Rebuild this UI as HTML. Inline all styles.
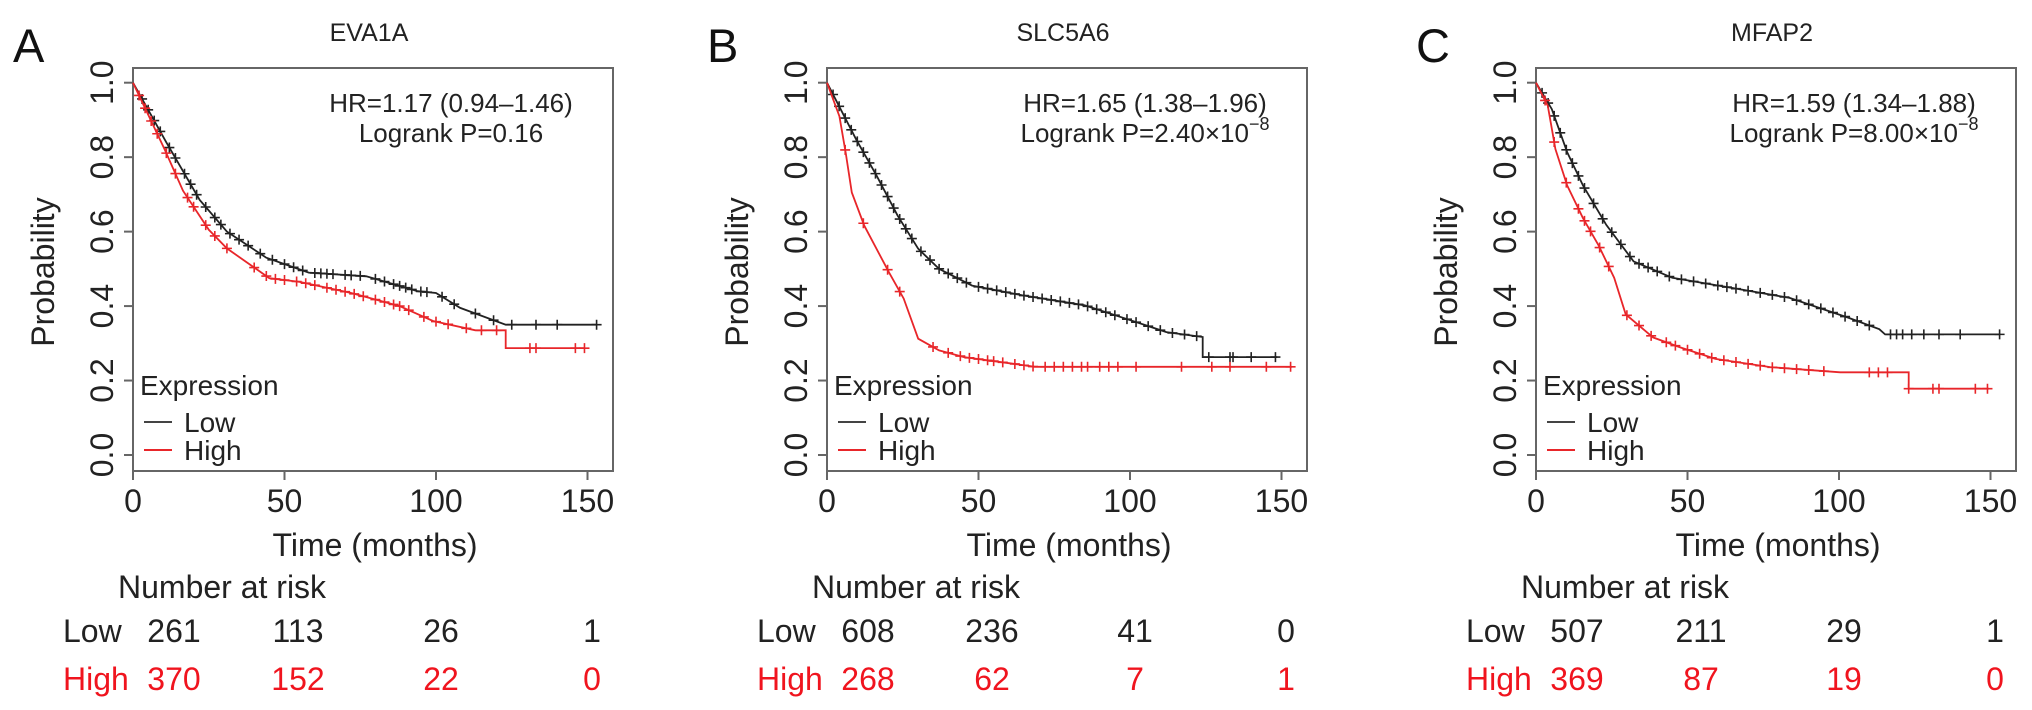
<!DOCTYPE html>
<html><head><meta charset="utf-8">
<style>
html,body{margin:0;padding:0;background:#fff;}
svg{display:block;font-family:"Liberation Sans",Arial,sans-serif;}
</style></head>
<body>
<svg id="fig" width="2032" height="710" viewBox="0 0 2032 710" xmlns="http://www.w3.org/2000/svg"></svg>
<script>
// ---- data ----
const xTicks = [0, 50, 100, 150];
const yTicks = [0, 0.2, 0.4, 0.6, 0.8, 1.0];
const yTickLabels = ["0.0", "0.2", "0.4", "0.6", "0.8", "1.0"];
const panelLetters = ["A", "B", "C"];
const geneNames = ["EVA1A", "SLC5A6", "MFAP2"];
const hrTexts = ["HR=1.17 (0.94\u20131.46)", "HR=1.65 (1.38\u20131.96)", "HR=1.59 (1.34\u20131.88)"];
const pTexts = ["Logrank P=0.16", "Logrank P=2.40\u00d710", "Logrank P=8.00\u00d710"];
const pExps = ["", "\u22128", "\u22128"];
const riskLow = [[261, 113, 26, 1], [608, 236, 41, 0], [507, 211, 29, 1]];
const riskHigh = [[370, 152, 22, 0], [268, 62, 7, 1], [369, 87, 19, 0]];

const aLowT = [0, 11, 22, 31, 44, 58, 77, 94, 100, 108, 123, 123, 153];
const aLowP = [1, 0.84, 0.685, 0.60, 0.53, 0.49, 0.48, 0.44, 0.435, 0.395, 0.35, 0.35, 0.35];
const aHighT = [0, 10.5, 16.5, 25, 31, 45, 55, 72, 88, 99, 113, 123, 123, 149];
const aHighP = [1, 0.82, 0.71, 0.605, 0.555, 0.475, 0.465, 0.435, 0.40, 0.36, 0.335, 0.335, 0.287, 0.287];
const bLowT = [0, 9.6, 16.4, 23.3, 30.1, 37, 47.9, 64.4, 85, 98.6, 112, 124, 124, 148.6];
const bLowP = [1, 0.848, 0.75, 0.643, 0.554, 0.5, 0.455, 0.429, 0.402, 0.366, 0.33, 0.317, 0.263, 0.263];
const bHighT = [0, 4.1, 6.2, 8.2, 12.3, 20.5, 25.3, 30.1, 37, 45.2, 61.6, 68.5, 153.4];
const bHighP = [1, 0.91, 0.81, 0.705, 0.616, 0.49, 0.42, 0.3125, 0.281, 0.263, 0.245, 0.237, 0.237];
const cLowT = [0, 5.2, 10.3, 15.5, 23.2, 32.2, 45, 64.4, 83.7, 103, 113.3, 115.2, 153.2];
const cLowP = [1, 0.929, 0.813, 0.724, 0.618, 0.52, 0.476, 0.449, 0.422, 0.369, 0.338, 0.324, 0.324];
const cHighT = [0, 3.9, 6.4, 10.3, 15.5, 20.6, 25.8, 29.6, 38.6, 47.6, 59.2, 77.3, 100.4, 123, 123, 149.4];
const cHighP = [1, 0.938, 0.822, 0.724, 0.636, 0.564, 0.476, 0.378, 0.316, 0.289, 0.258, 0.236, 0.222, 0.222, 0.178, 0.178];

const aLowCens = [3,5,7,9,12,14,17,19,21,24,27,29,32,35,38,42,46,50,53,56,60,62,64,66,70,72,75,80,83,86,88,90,92,95,97,102,106,113,119,125,133,140,153];
const aHighCens = [2,4,6,8,11,14,18,20,24,27,31,40,44,47,50,54,57,60,64,67,70,73,76,80,83,86,88,91,96,100,104,110,115,120,131,133,146,149];
const bLowCens = [2,4,6,8,10,12,14,16,18,20,22,24,26,28,31,34,37,40,43,46,50,53,56,59,62,65,68,71,74,77,80,83,86,89,92,95,99,102,106,110,114,118,122,126,133,134,140,148];
const bHighCens = [6,12,20,24,35,40,44,47,50,53,55,58,62,65,68,72,75,78,81,84,86,90,93,96,102,117,127,133,145,153];
const cLowCens = [2,4,6,8,10,12,14,16,19,22,25,28,31,34,37,40,44,48,52,56,60,63,66,70,74,78,82,86,90,94,98,102,106,110,117,119,121,124,128,133,140,153];
const cHighCens = [3,6,10,14,16,18,21,24,30,34,38,43,46,50,54,58,62,66,70,74,78,82,86,90,95,110,113,116,123,131,133,145,149];

const series = [
  {lowT:aLowT, lowP:aLowP, highT:aHighT, highP:aHighP, lowC:aLowCens, highC:aHighCens},
  {lowT:bLowT, lowP:bLowP, highT:bHighT, highP:bHighP, lowC:bLowCens, highC:bHighCens},
  {lowT:cLowT, lowP:cLowP, highT:cHighT, highP:cHighP, lowC:cLowCens, highC:cHighCens}
];
// ---- layout ----
const X0 = [133, 827, 1536];
const PXM = 3.03, BOXW = 480, TOP = 68, BOT = 471, Y1 = 82.7, YZ = 455;
const BLACK = "#222", RED = "#e8262a", RISKRED = "#f0141e";
const NS = "http://www.w3.org/2000/svg";
const svg = document.getElementById("fig");

function mk(tag, attrs, parent, text) {
  const e = document.createElementNS(NS, tag);
  for (const k in attrs) e.setAttribute(k, attrs[k]);
  if (text !== undefined) e.textContent = text;
  (parent || svg).appendChild(e);
  return e;
}
function interp(T, P, t) {
  for (let i = T.length - 1; i >= 0; i--) if (T[i] <= t) {
    if (i === T.length - 1) return P[i];
    const f = (t - T[i]) / ((T[i+1] - T[i]) || 1);
    return P[i] + (P[i+1] - P[i]) * f;
  }
  return P[0];
}

for (let k = 0; k < 3; k++) {
  const x0 = X0[k];
  const xs = t => x0 + t * PXM;
  const ys = p => YZ - (YZ - Y1) * p;
  const g = mk("g", {});
  
  

  const letter = mk("text", {x: x0 - 120, y: 62, "font-size": 47, fill: "#111"}, g, panelLetters[k]);
  
  
  const title = mk("text", {x: x0 + 236, y: 41, "font-size": 25, fill: "#222", "text-anchor": "middle"}, g, geneNames[k]);
  
  

  const box = mk("rect", {x: x0, y: TOP, width: BOXW, height: BOT - TOP, fill: "none", stroke: "#666", "stroke-width": 2}, g);
  
  

  // x ticks
  xTicks.forEach(t => {
    const tk = mk("line", {x1: xs(t), x2: xs(t), y1: BOT, y2: BOT + 9, stroke: "#666", "stroke-width": 2}, g);
    
    
    const tl = mk("text", {x: xs(t), y: 512, "font-size": 32, fill: "#222", "text-anchor": "middle"}, g, String(t));
    
    
  });
  // y ticks
  yTicks.forEach((p, i) => {
    const tk = mk("line", {x1: x0 - 9, x2: x0, y1: ys(p), y2: ys(p), stroke: "#666", "stroke-width": 2}, g);
    
    
    const tl = mk("text", {x: 0, y: 0, "font-size": 32, fill: "#222", "text-anchor": "middle",
      transform: `translate(${x0 - 20},${ys(p)}) rotate(-90)`}, g, yTickLabels[i]);
    
    
  });
  const yt = mk("text", {x: 0, y: 0, "font-size": 32, fill: "#222", "text-anchor": "middle",
    transform: `translate(${x0 - 79},${272}) rotate(-90)`}, g, "Probability");
  
  
  const xt = mk("text", {x: x0 + 242, y: 556, "font-size": 32, fill: "#222", "text-anchor": "middle"}, g, "Time (months)");
  
  

  // HR text
  const hr = mk("text", {x: x0 + 318, y: 112, "font-size": 26, fill: "#222", "text-anchor": "middle"}, g, hrTexts[k]);
  
  
  const pt = mk("text", {x: x0 + 318, y: 142, "font-size": 26, fill: "#222", "text-anchor": "middle"}, g);
  
  
  mk("tspan", {}, pt, pTexts[k]);
  if (pExps[k]) mk("tspan", {dy: -12, "font-size": 18}, pt, pExps[k]);

  // curves
  const s = series[k];
  [["low", BLACK], ["high", RED]].forEach(([key, col]) => {
    const T = s[key + "T"], P = s[key + "P"];
    let d = "M" + xs(T[0]) + "," + ys(P[0]);
    for (let i = 1; i < T.length; i++) d += " L" + xs(T[i]).toFixed(1) + "," + ys(P[i]).toFixed(1);
    const path = mk("path", {d: d, fill: "none", stroke: col, "stroke-width": 1.8}, g);
    
    
    s[key + "C"].forEach(t => {
      const cx = xs(t), cy = ys(interp(T, P, t));
      const c = mk("path", {d: `M${cx-5},${cy}h10M${cx},${cy-5}v10`, stroke: col, "stroke-width": 1.6}, g);
      
      
    });
  });

  // legend
  const lg = mk("g", {}, g);
  
  
  mk("text", {x: x0 + 7, y: 395, "font-size": 28, fill: "#222"}, lg, "Expression");
  const l1 = mk("line", {x1: x0 + 11, x2: x0 + 39, y1: 422, y2: 422, stroke: "#444", "stroke-width": 2}, lg);
  
  
  mk("text", {x: x0 + 51, y: 432, "font-size": 28, fill: "#222"}, lg, "Low");
  const l2 = mk("line", {x1: x0 + 11, x2: x0 + 39, y1: 450, y2: 450, stroke: RED, "stroke-width": 2}, lg);
  
  
  mk("text", {x: x0 + 51, y: 460, "font-size": 28, fill: "#222"}, lg, "High");

  // risk table
  const nar = mk("text", {x: x0 - 15, y: 598, "font-size": 32, fill: "#222"}, g, "Number at risk");
  
  
  const lowL = mk("text", {x: x0 - 70, y: 642, "font-size": 32, fill: "#222"}, g, "Low");
  
  
  const highL = mk("text", {x: x0 - 70, y: 690, "font-size": 32, fill: RISKRED}, g, "High");
  
  
  const colX = [x0 + 41, x0 + 165, x0 + 308, x0 + 459];
  for (let j = 0; j < 4; j++) {
    const a = mk("text", {x: colX[j], y: 642, "font-size": 32, fill: "#222", "text-anchor": "middle"}, g, String(riskLow[k][j]));
    
    
    const b = mk("text", {x: colX[j], y: 690, "font-size": 32, fill: RISKRED, "text-anchor": "middle"}, g, String(riskHigh[k][j]));
    
    
  }
}
</script>
</body></html>
